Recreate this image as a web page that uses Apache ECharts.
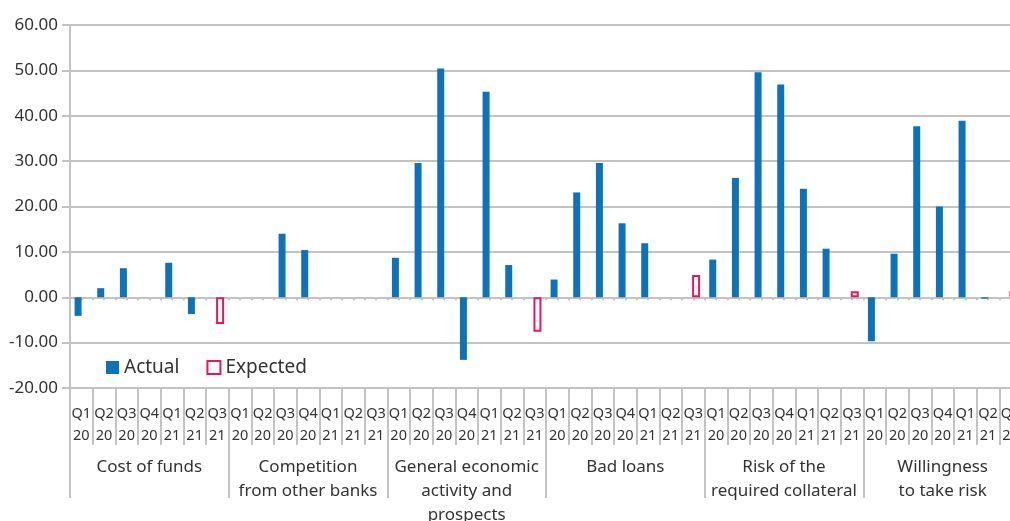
<!DOCTYPE html>
<html>
<head>
<meta charset="utf-8">
<script src="https://cdn.jsdelivr.net/npm/echarts@6/dist/echarts.min.js"></script>
<style>
html,body{margin:0;padding:0;background:#fff;}
#chart{width:1010px;height:521px;}
</style>
</head>
<body>
<div id="chart"></div>
<script>
// ---- data ----
const groups = ['Cost of funds', 'Competition\nfrom other banks', 'General economic\nactivity and\nprospects', 'Bad loans', 'Risk of the\nrequired collateral', 'Willingness\nto take risk'];
const quarters = ['Q1\n20', 'Q2\n20', 'Q3\n20', 'Q4\n20', 'Q1\n21', 'Q2\n21', 'Q3\n21'];
const yTicks = [-20, -10, 0, 10, 20, 30, 40, 50, 60];

// Actual values for Q1 20 .. Q2 21 in each group
const actualCostOfFunds   = [-4.1, 2.0, 6.4, 0, 7.6, -3.7];
const actualCompetition   = [0, 0, 14.0, 10.4, 0, 0];
const actualGeneral       = [8.7, 29.6, 50.4, -13.8, 45.3, 7.1];
const actualBadLoans      = [3.9, 23.1, 29.6, 16.3, 11.9, 0];
const actualRiskCollat    = [8.3, 26.3, 49.6, 46.9, 23.9, 10.7];
const actualWillingness   = [-9.7, 9.6, 37.7, 20.0, 38.9, -0.3];
// Expected values for Q3 21 in each group (null = not shown)
const expectedQ321        = [-5.9, null, -7.6, 4.9, 1.3, 1.3];

// ---- build category data ----
const actualGroups = [actualCostOfFunds, actualCompetition, actualGeneral, actualBadLoans, actualRiskCollat, actualWillingness];
const catData = [];
const actualData = [];
const expectedData = [];
groups.forEach(function (g, gi) {
  quarters.forEach(function (q, qi) {
    catData.push(q);
    if (qi < 6) { actualData.push(actualGroups[gi][qi]); expectedData.push(null); }
    else { actualData.push(null); expectedData.push(expectedQ321[gi]); }
  });
});
const halfCats = [];
for (let i = 0; i < catData.length * 2; i++) halfCats.push('');

const gridColor = '#c3c3c3';
const textColor = '#333333';
const fontMain = 'Noto Sans';
const blue = '#0e72b9';
const pink = '#e5175e';

const chart = echarts.init(document.getElementById('chart'));
chart.setOption({
  animation: false,
  backgroundColor: '#ffffff',
  grid: { left: 70, top: 25, right: -12, bottom: 133, containLabel: false, outerBoundsMode: 'none' },
  legend: {
    left: 106, top: 358, padding: 0,
    itemWidth: 13, itemHeight: 13, itemGap: 27,
    textStyle: { fontFamily: fontMain, fontSize: 19, color: textColor },
    data: [
      { name: 'Actual', icon: 'rect' },
      { name: 'Expected', icon: 'rect' }
    ]
  },
  xAxis: [
    {
      type: 'category', data: catData, position: 'bottom',
      axisLine: { show: true, onZero: false, lineStyle: { color: gridColor, width: 2 } },
      axisTick: { show: true, length: 57, interval: 0, lineStyle: { color: gridColor, width: 2 } },
      axisLabel: { interval: 0, margin: 15, fontFamily: fontMain, fontSize: 14.5, lineHeight: 22, color: textColor }
    },
    {
      type: 'category', data: groups, position: 'bottom',
      axisLine: { show: false, onZero: false },
      axisTick: { show: true, length: 110, interval: 0, lineStyle: { color: gridColor, width: 2 } },
      axisLabel: { interval: 0, margin: 67, fontFamily: fontMain, fontSize: 17, lineHeight: 24, color: textColor }
    },
    {
      type: 'category', data: halfCats, position: 'bottom',
      axisLine: { show: false, onZero: true },
      axisTick: { show: true, length: 3, interval: 0, lineStyle: { color: gridColor, width: 2 } },
      axisLabel: { show: false }
    }
  ],
  yAxis: {
    type: 'value', min: -20, max: 60, interval: 10,
    axisLine: { show: true, lineStyle: { color: gridColor, width: 2 } },
    axisTick: { show: true, length: 8, lineStyle: { color: gridColor, width: 2 } },
    splitLine: { show: true, lineStyle: { color: gridColor, width: 2 } },
    axisLabel: {
      margin: 12, fontFamily: fontMain, fontSize: 17, color: textColor,
      formatter: function (v) { return yTicks.indexOf(v) >= 0 ? v.toFixed(2) : ''; }
    }
  },
  series: [
    {
      name: 'Actual', type: 'bar', xAxisIndex: 0, data: actualData,
      barWidth: 7, barGap: '-21%',
      itemStyle: { color: blue }
    },
    {
      name: 'Expected', type: 'bar', xAxisIndex: 0, data: expectedData,
      barWidth: 8, barGap: '-21%',
      itemStyle: { color: '#ffffff', borderColor: pink, borderWidth: 2 }
    }
  ]
});
</script>
</body>
</html>
